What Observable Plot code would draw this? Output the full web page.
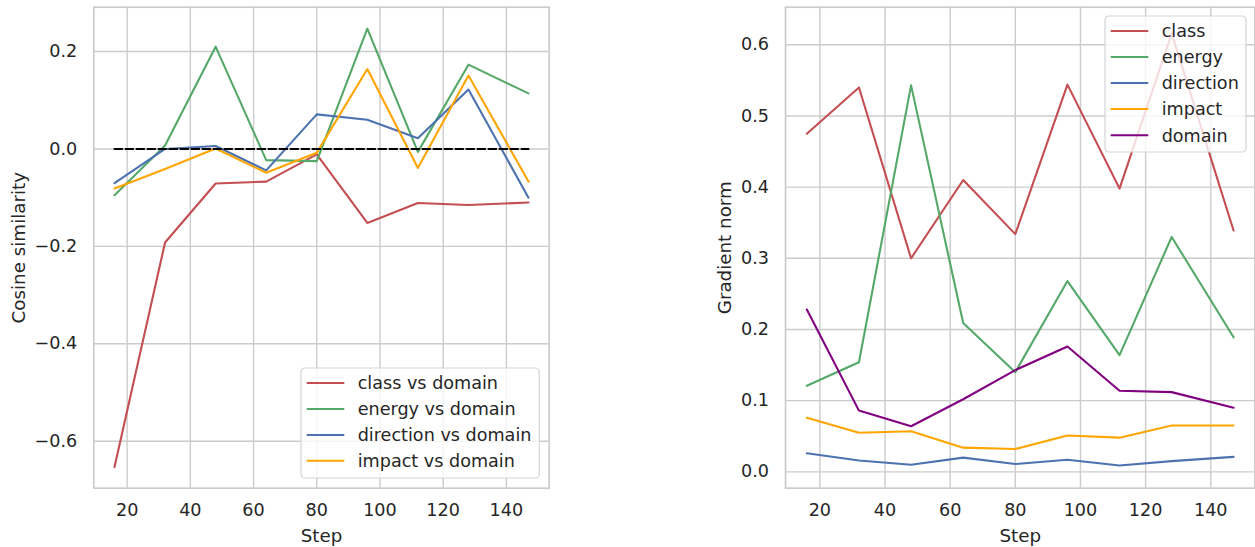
<!DOCTYPE html>
<html>
<head>
<meta charset="utf-8">
<script src="https://cdn.jsdelivr.net/npm/d3@7"></script>
<script src="https://cdn.jsdelivr.net/npm/@observablehq/plot@0.6"></script>
<style>
  html, body { margin: 0; padding: 0; background: #fff; }
  #wrap { position: relative; width: 1255px; height: 547px; overflow: hidden; font-family: "DejaVu Sans", sans-serif; }
  #wrap > * { position: absolute; }
</style>
</head>
<body>
<div id="wrap"></div>
<script>
// ---- data ----
const steps = [16, 32, 48, 64, 80, 96, 112, 128, 147];
const xTicks = [20, 40, 60, 80, 100, 120, 140];

// Left panel: cosine similarity vs domain
const cosSeries = ["class vs domain", "energy vs domain", "direction vs domain", "impact vs domain"];
const cosClass     = [-0.653, -0.192, -0.071, -0.067, -0.011, -0.152, -0.111, -0.115, -0.110];
const cosEnergy    = [-0.095,  0.007,  0.210, -0.023, -0.025,  0.247, -0.006,  0.173,  0.114];
const cosDirection = [-0.070,  0.000,  0.006, -0.044,  0.071,  0.060,  0.022,  0.122, -0.100];
const cosImpact    = [-0.081, -0.041,  0.001, -0.049, -0.008,  0.164, -0.039,  0.151, -0.067];
const cosTicks = [-0.6, -0.4, -0.2, 0.0, 0.2];

// Right panel: gradient norm
const gnSeries = ["class", "energy", "direction", "impact", "domain"];
const gnClass     = [0.475, 0.540, 0.300, 0.410, 0.334, 0.544, 0.398, 0.616, 0.339];
const gnEnergy    = [0.121, 0.154, 0.543, 0.209, 0.140, 0.268, 0.164, 0.330, 0.189];
const gnDirection = [0.026, 0.016, 0.010, 0.020, 0.011, 0.017, 0.009, 0.015, 0.021];
const gnImpact    = [0.076, 0.055, 0.057, 0.034, 0.032, 0.051, 0.048, 0.065, 0.065];
const gnDomain    = [0.228, 0.086, 0.064, 0.102, 0.143, 0.176, 0.114, 0.112, 0.090];
const gnTicks = [0.0, 0.1, 0.2, 0.3, 0.4, 0.5, 0.6];

const colors5 = ["#c44e52", "#55a868", "#4c72b0", "#ffa500", "#800080"];

// ---- build tables ----
function longTable(names, arrays) {
  const rows = [];
  names.forEach((n, i) => arrays[i].forEach((v, j) => rows.push({series: n, step: steps[j], value: v})));
  return rows;
}
const cosData = longTable(cosSeries, [cosClass, cosEnergy, cosDirection, cosImpact]);
const gnData = longTable(gnSeries, [gnClass, gnEnergy, gnDirection, gnImpact, gnDomain]);
const zeroLine = steps.map(s => ({step: s, value: 0}));

const fmt = d => d.toFixed(1).replace("-", "\u2212");
const GRID = "#cccccc";
const TEXT = "#262626";
const FS = 17.6;
const xDomain = [9.45, 153.55];

function panel({width, marginLeft, marginRight, yDomain, yTicks, data, names, ylabel, ylabelDx, extra = []}) {
  return Plot.plot({
    width, height: 547,
    marginLeft, marginRight, marginTop: 6.7, marginBottom: 59.3,
    style: {fontFamily: "DejaVu Sans", fontSize: FS + "px", color: TEXT, background: "transparent", overflow: "visible"},
    x: {domain: xDomain, label: null},
    y: {domain: yDomain, label: null},
    color: {domain: names, range: colors5.slice(0, names.length)},
    marks: [
      Plot.gridX(xTicks, {stroke: GRID, strokeOpacity: 1, strokeWidth: 1.4}),
      Plot.gridY(yTicks, {stroke: GRID, strokeOpacity: 1, strokeWidth: 1.4}),
      Plot.frame({stroke: GRID, strokeWidth: 1.7}),
      Plot.axisX(xTicks, {tickSize: 0, tickPadding: 15.5, label: null, fontSize: FS, fill: TEXT}),
      Plot.axisY(yTicks, {tickSize: 0, tickPadding: 16.5, label: null, tickFormat: fmt, fontSize: FS, fill: TEXT}),
      Plot.line(data, {x: "step", y: "value", z: "series", stroke: "series", strokeWidth: 2.1}),
      ...extra,
      Plot.text(["Step"], {frameAnchor: "bottom", dy: 48, lineAnchor: "middle", textAnchor: "middle", text: d => d, fontSize: 18.3, fill: TEXT}),
      Plot.text([ylabel], {frameAnchor: "left", dx: ylabelDx, rotate: -90, lineAnchor: "middle", textAnchor: "middle", text: d => d, fontSize: 18.3, fill: TEXT})
    ]
  });
}

function legend(names, {left, top, width, height, rows}) {
  const svg = d3.create("svg").attr("width", width + 2).attr("height", height + 2)
    .style("left", (left - 1) + "px").style("top", (top - 1) + "px");
  svg.append("rect").attr("x", 1).attr("y", 1).attr("width", width).attr("height", height)
    .attr("rx", 4).attr("fill", "#fff").attr("fill-opacity", 0.8).attr("stroke", "#d4d4d4").attr("stroke-width", 1.2);
  names.forEach((n, i) => {
    const y = 1 + rows[i];
    svg.append("line").attr("x1", 6.7).attr("x2", 44.3).attr("y1", y).attr("y2", y)
      .attr("stroke", colors5[i]).attr("stroke-width", 2.1);
    svg.append("text").attr("x", 57.7).attr("y", y).attr("dy", "0.36em")
      .attr("font-family", "DejaVu Sans").attr("font-size", FS).attr("fill", TEXT).text(n);
  });
  return svg.node();
}

const wrap = document.getElementById("wrap");

const left = panel({
  width: 560, marginLeft: 93.3, marginRight: 11.3,
  yDomain: [-0.6965, 0.291], yTicks: cosTicks, data: cosData, names: cosSeries,
  ylabel: "Cosine similarity", ylabelDx: -75,
  extra: [Plot.line(zeroLine, {x: "step", y: "value", stroke: "#000", strokeWidth: 2.1, strokeDasharray: "7.7,3.3"})]
});
left.style.left = "0px"; left.style.top = "0px";
wrap.appendChild(left);

const right = panel({
  width: 615, marginLeft: 145, marginRight: 0.6,
  yDomain: [-0.023, 0.6528], yTicks: gnTicks, data: gnData, names: gnSeries,
  ylabel: "Gradient norm", ylabelDx: -60
});
right.style.left = "640px"; right.style.top = "0px";
wrap.appendChild(right);

wrap.appendChild(legend(cosSeries, {left: 301, top: 368.3, width: 238.3, height: 110, rows: [15, 41, 67, 92.7]}));
wrap.appendChild(legend(gnSeries, {left: 1105, top: 15.7, width: 141, height: 136, rows: [15, 41, 67, 93, 119.3]}));
</script>
</body>
</html>
